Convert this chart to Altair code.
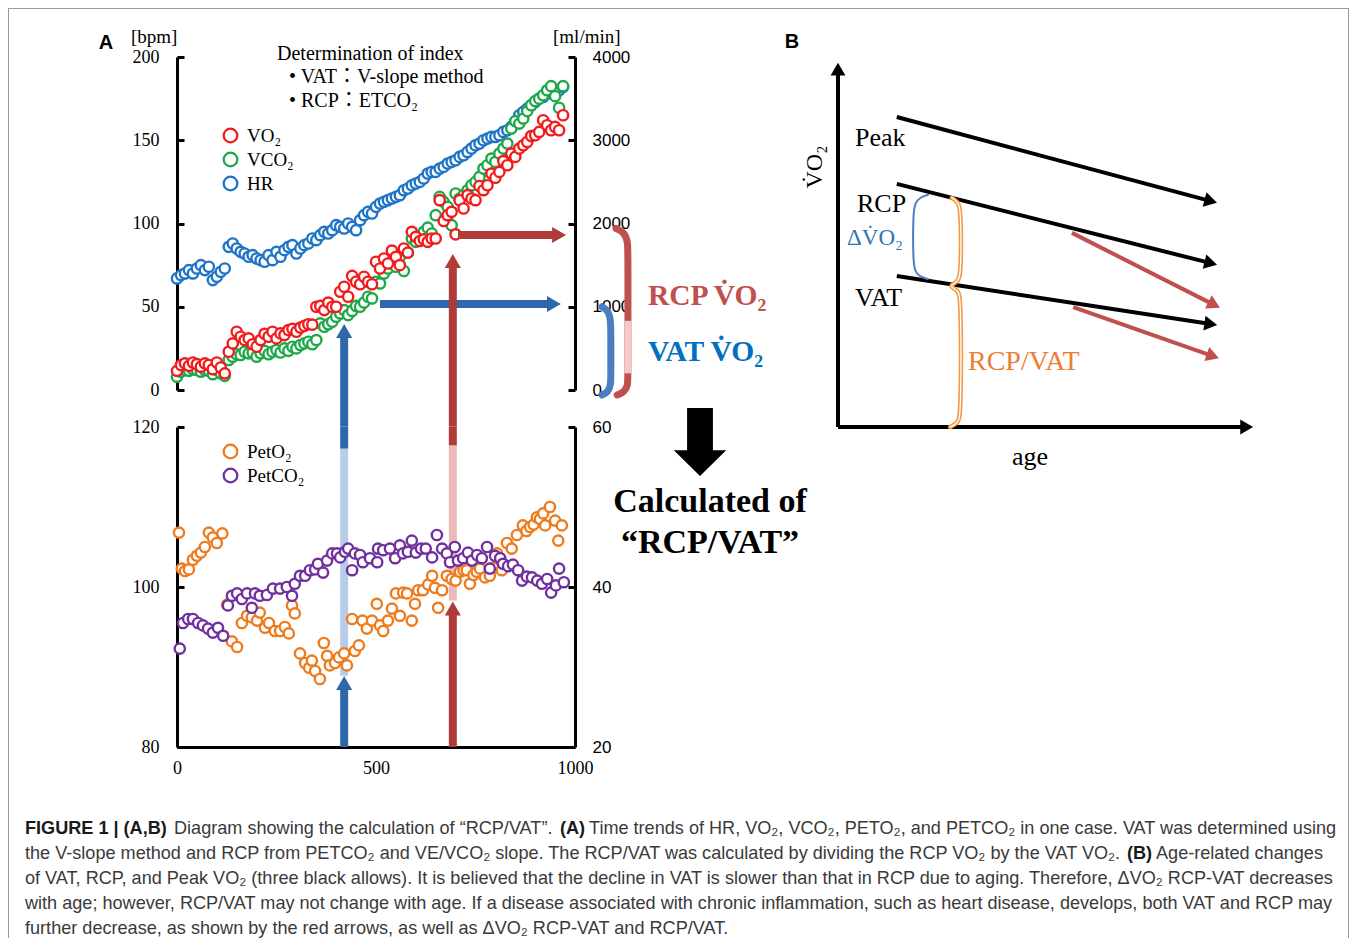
import altair as alt
import pandas as pd

W, H = 1341, 930
SERIF = "Liberation Serif, Times New Roman, serif"
SERIF_CJK = "Liberation Serif, Noto Sans CJK JP, serif"
SANS = "Liberation Sans, Arial, sans-serif"
CAP_FONT = "Liberation Sans, Arial, sans-serif"

# ---------------- data ----------------
TIME = [0, 10, 20, 30, 40, 50, 60, 70, 80, 90,
        100, 110, 120, 130, 140, 150, 160, 170, 180, 190,
        200, 210, 220, 230, 240, 250, 260, 270, 280, 290,
        300, 310, 320, 330, 340, 350, 360, 370, 380, 390,
        400, 410, 420, 430, 440, 450, 460, 470, 480, 490,
        500, 510, 520, 530, 540, 550, 560, 570, 580, 590,
        600, 610, 620, 630, 640, 650, 660, 670, 680, 690,
        700, 710, 720, 730, 740, 750, 760, 770, 780, 790,
        800, 810, 820, 830, 840, 850, 860, 870, 880, 890,
        900, 910, 920, 930, 940, 950, 960, 970]
HR = [67, 69, 70, 72, 70, 73, 75, 72, 74, 66,
      68, 71, 73, 86, 88, 85, 83, 82, 80, 81,
      79, 78, 77, 81, 78, 83, 80, 84, 86, 87,
      82, 85, 87, 88, 91, 90, 93, 95, 94, 96,
      99, 98, 97, 100, 98, 96, 102, 105, 107, 106,
      110, 112, 113, 114, 115, 116, 117, 120, 121, 123,
      124, 125, 127, 130, 131, 131, 133, 134, 136, 137,
      138, 140, 141, 143, 145, 147, 148, 150, 151, 152,
      152, 153, 155, 156, 158, 161, 165, 167, 169, 171,
      173, 175, 176, 178, 179, 180, 180, 182]
VO2 = [230, 300, 320, 290, 330, 310, 280, 320, 300, 250,
       330, 270, 200, 460, 560, 700, 640, 600, 620, 550,
       520, 600, 675, 640, 700, 620, 680, 660, 720, 735,
       700, 750, 770, 790, 785, 1000, 1010, 960, 1050, 1000,
       1000, 1180, 1240, 1120, 1370, 1300, 1270, 1360, 1300, 1270,
       1540, 1460, 1580, 1520, 1675, 1600, 1500, 1700, 1650, 1900,
       1840, 1790, 1810, 1780, 1820, 1820, 2280, 2030, 2100, 2140,
       1870, 2280, 2180, 2340, 2300, 2280, 2450, 2400, 2460, 2600,
       2550, 2620, 2750, 2700, 2840, 2800, 2900, 2940, 2980, 3050,
       3060, 3100, 3240, 3180, 3120, 3160, 3120, 3300]
VCO2 = [160, 220, 240, 230, 250, 240, 220, 240, 230, 190,
        240, 200, 170, 360, 400, 430, 420, 460, 440, 450,
        400, 440, 470, 430, 460, 480, 450, 500, 470, 520,
        500, 540, 560, 580, 550, 600, 800, 760, 790, 820,
        880, 920, 960, 900, 950, 1010, 1000, 1050, 1120, 1100,
        1300, 1280, 1400, 1460, 1520, 1480, 1600, 1430, 1650, 1820,
        1780, 1850, 1900, 1950, 1880, 2100, 2320, 2260, 2200, 1980,
        2360, 2300, 2340, 2400, 2460, 2500, 2560, 2660, 2700, 2780,
        2740, 2840, 2900, 2960, 3140, 3230, 3200, 3260, 3350, 3420,
        3470, 3500, 3540, 3600, 3650, 3530, 3390, 3650]
PETO2_T = [5, 12, 20, 30, 40, 50, 60, 70, 80, 90, 100, 114, 126, 138, 151, 163, 176, 188, 201, 208,
           221, 231, 246, 259, 271, 281, 289, 296, 309, 322, 332, 339, 347, 359, 369, 377, 384, 397, 407, 420,
           427, 440, 447, 457, 466, 477, 490, 502, 510, 518, 530, 540, 550, 560, 568, 578, 590, 598, 606, 618,
           631, 641, 648, 656, 666, 678, 690, 700, 711, 720, 728, 736, 745, 753, 761, 774, 786, 795, 804, 816,
           829, 841, 854, 869, 878, 887, 896, 904, 912, 920, 925, 937, 950, 958, 967]
PETO2 = [106.8, 102.3, 102.0, 102.2, 103.4, 103.9, 104.3, 105.0, 106.8, 106.2, 105.5, 106.7, 97.8, 93.2, 92.5,
         95.5, 96.4, 96.2, 95.8, 96.8, 94.9, 95.5, 94.5, 94.5, 95.0, 94.2, 97.7, 96.7, 91.7, 90.5,
         89.9, 90.8, 89.5, 88.5, 93.0, 91.4, 90.2, 90.5, 91.2, 91.7, 90.2, 96.0, 92.0, 92.7, 95.8,
         94.8, 95.8, 97.9, 95.2, 94.5, 95.8, 97.3, 99.2, 96.4, 99.3, 99.2, 95.8, 97.9, 99.6, 99.6,
         100.3, 101.4, 99.9, 97.4, 99.6, 101.4, 101.0, 100.8, 101.9, 102.1, 102.1, 100.4, 101.5, 101.9, 102.3,
         101.2, 101.4, 102.4, 104.2, 102.1, 105.5, 104.8, 106.5, 107.7, 107.0, 107.5, 107.8, 108.7, 108.5, 109.2,
         107.7, 110.0, 108.3, 105.8, 107.7]
PETCO2_T = [7, 15, 28, 40, 53, 65, 78, 90, 103, 116, 128, 138, 151, 163, 176, 188, 196, 208, 226, 241,
            259, 276, 289, 296, 309, 322, 334, 347, 354, 367, 377, 390, 402, 410, 422, 430, 440, 447, 460, 467,
            485, 503, 505, 518, 535, 548, 560, 568, 580, 590, 600, 613, 625, 641, 653, 666, 678, 686, 698, 706,
            719, 731, 741, 754, 766, 779, 786, 799, 812, 819, 832, 844, 857, 867, 879, 892, 905, 917, 930, 940,
            952, 960, 972]
PETCO2 = [32.3, 35.5, 36.0, 36.0, 35.5, 35.2, 34.8, 34.3, 34.9, 33.9, 37.7, 38.9, 39.2, 38.5, 39.2, 37.4,
          39.2, 38.9, 39.0, 39.8, 39.8, 40.0, 38.9, 40.4, 41.4, 41.4, 42.1, 42.2, 42.9, 41.8, 43.3, 44.2,
          44.2, 43.7, 44.4, 44.8, 42.1, 44.2, 44.0, 43.1, 43.6, 43.1, 44.8, 44.6, 44.8, 43.6, 45.2, 44.2,
          44.4, 45.8, 44.3, 44.8, 44.8, 43.7, 46.5, 44.8, 44.2, 43.1, 45.0, 43.3, 43.6, 44.3, 43.3, 44.0,
          43.6, 45.0, 42.3, 43.9, 43.6, 42.9, 42.6, 42.8, 42.1, 40.8, 41.3, 41.2, 40.8, 40.4, 41.0, 39.3,
          40.2, 42.3, 40.6]

TOP_SERIES = ["VO₂", "VCO₂", "HR"]
TOP_COLORS = ["#f21c1c", "#1fa84a", "#1f74c6"]
BOT_SERIES = ["PetO₂", "PetCO₂"]
BOT_COLORS = ["#ee7b1e", "#7030a0"]

HR_TICKS = [0, 50, 100, 150, 200]
ML_TICKS = [0, 1000, 2000, 3000, 4000]
O2_TICKS = [80, 100, 120]
CO2_TICKS = [20, 40, 60]
TIME_TICKS = [0, 500, 1000]

# VAT at t=420 s, RCP at t=693 s (annotation arrows, in data units)
VAT_T, RCP_T = 420, 693
VAT_VO2, RCP_VO2 = 1033, 1862

# Panel B schematic (arbitrary units 0-100)
B_BLACK_X1 = [0, 0, 14.1, 14.1, 14.1]
B_BLACK_Y1 = [0, 0, 84.0, 65.9, 40.9]
B_BLACK_X2 = [0, 98.0, 89.4, 89.4, 89.4]
B_BLACK_Y2 = [97.0, 0, 61.2, 44.4, 27.9]
B_BLACK_ANG = [270, 0, 15.0, 14.2, 8.7]
B_RED_X1 = [56.1, 56.4]
B_RED_Y1 = [52.6, 32.5]
B_RED_X2 = [90.2, 89.9]
B_RED_Y2 = [33.1, 19.2]
B_RED_ANG = [26.9, 19.1]
BRACE_BLUE_X = [21.6, 19.7, 18.5, 18.0, 18.0, 18.5, 19.7, 21.6]
BRACE_BLUE_Y = [62.9, 62.3, 60.7, 58.0, 44.7, 42.0, 40.7, 40.1]
BRACE_OR_X = [27.3, 28.8, 29.5, 29.5, 28.8, 26.4, 28.8, 29.5, 29.5, 28.8, 26.9]
BRACE_OR_Y = [62.1, 61.0, 58.8, 41.5, 39.3, 38.2, 37.1, 35.0, 3.3, 1.1, 0.0]

# brackets right of panel A (time units / ml/min)
BR_RED_T = [1103, 1125, 1133, 1133, 1133, 1133, 1124, 1106]
BR_RED_V = [1940, 1890, 1771, 1602, 157, 60, -24, -60]
BR_BLUE_T = [1068, 1084, 1090, 1090, 1090, 1090, 1083, 1068]
BR_BLUE_V = [1000, 952, 831, 614, 193, 60, -24, -60]

CAPTION = [
    (0, 17, "FIGURE 1 | (A,B)", True),
    (0, 166, "Diagram showing the calculation of “RCP/VAT”.", False),
    (0, 552, "(A)", True),
    (0, 581, "Time trends of HR, VO₂, VCO₂, PETO₂, and PETCO₂ in one case. VAT was determined using", False),
    (1, 17, "the V-slope method and RCP from PETCO₂ and VE/VCO₂ slope. The RCP/VAT was calculated by dividing the RCP VO₂ by the VAT VO₂.", False),
    (1, 1119, "(B)", True),
    (1, 1148, "Age-related changes", False),
    (2, 17, "of VAT, RCP, and Peak VO₂ (three black allows). It is believed that the decline in VAT is slower than that in RCP due to aging. Therefore, ΔVO₂ RCP-VAT decreases", False),
    (3, 17, "with age; however, RCP/VAT may not change with age. If a disease associated with chronic inflammation, such as heart disease, develops, both VAT and RCP may", False),
    (4, 17, "further decrease, as shown by the red arrows, as well as ΔVO₂ RCP-VAT and RCP/VAT.", False),
]


# ---------------- scales ----------------
def sc(dom, rng):
    return alt.Scale(domain=dom, range=rng, nice=False, zero=False)


X_A = sc([0, 1000], [169, 567])
Y_HR = sc([0, 200], [382, 49])
Y_ML = sc([0, 4000], [382, 49])
Y_O2 = sc([80, 120], [739, 419])
Y_CO2 = sc([20, 60], [739, 419])
X_B = sc([0, 100], [830, 1247])
Y_B = sc([0, 100], [419, 50])

TOP_SCALE = alt.Scale(domain=TOP_SERIES, range=TOP_COLORS)
BOT_SCALE = alt.Scale(domain=BOT_SERIES, range=BOT_COLORS)


def leg(y):
    return alt.Legend(orient="none", legendX=213, legendY=y, symbolType="circle", symbolSize=185,
                      symbolStrokeWidth=2.3, symbolFillColor="white", symbolOpacity=1,
                      labelFont=SERIF, labelFontSize=19, labelColor="black", labelOffset=7,
                      rowPadding=1, padding=0)


LEG_TOP = leg(118)
LEG_BOT = leg(434)


def label_axis(orient, offset, values, font, size, pad):
    return alt.Axis(orient=orient, offset=offset, values=values, format="d", grid=False, ticks=False,
                    tickSize=0, domain=True, domainColor="black", domainWidth=3, labelFont=font,
                    labelFontSize=size, labelColor="black", labelPadding=pad, labelFlush=False,
                    labelOverlap=False)


def tick_axis(orient, offset, values):
    return alt.Axis(orient=orient, offset=offset, values=values, grid=False, labels=False, domain=False,
                    ticks=True, tickSize=7, tickWidth=3, tickColor="black")


def series_df(t, v, name):
    return pd.DataFrame({"t": t, "v": v, "s": name})


hr_df = series_df(TIME, HR, "HR")
vo2_df = series_df(TIME, VO2, "VO₂")
vco2_df = series_df(TIME, VCO2, "VCO₂")
po2_df = series_df(PETO2_T, PETO2, "PetO₂")
pco2_df = series_df(PETCO2_T, PETCO2, "PetCO₂")

PT = dict(shape="circle", filled=False, fill="white", fillOpacity=1, opacity=1, size=105, strokeWidth=2.4)


def dots(df, ys, yaxis, chan, xaxis=None):
    enc = dict(x=alt.X("t:Q", scale=X_A, axis=xaxis, title=None),
               y=alt.Y("v:Q", scale=ys, axis=yaxis, title=None))
    if chan == "color":
        enc["color"] = alt.Color("s:N", scale=TOP_SCALE, legend=LEG_TOP, title=None)
    else:
        enc["stroke"] = alt.Stroke("s:N", scale=BOT_SCALE, legend=LEG_BOT, title=None)
    return alt.Chart(df).mark_point(**PT).encode(**enc)


def carrier(df, ys, yaxis):
    return alt.Chart(df).mark_point(opacity=0).encode(
        x=alt.X("t:Q", scale=X_A, axis=None), y=alt.Y("v:Q", scale=ys, axis=yaxis, title=None))


def shafts(x1, y1, x2, y2, xs, ys, color, width):
    df = pd.DataFrame({"x1": x1, "y1": y1, "x2": x2, "y2": y2})
    return alt.Chart(df).mark_rule(color=color, strokeWidth=width).encode(
        x=alt.X("x1:Q", scale=xs, axis=None), y=alt.Y("y1:Q", scale=ys, axis=None),
        x2="x2:Q", y2="y2:Q")


def heads(x, y, ang, xs, ys, color, size):
    df = pd.DataFrame({"x": x, "y": y, "a": ang})
    return alt.Chart(df).mark_point(shape="triangle-right", filled=True, color=color, opacity=1,
                                    size=size, strokeWidth=0).encode(
        x=alt.X("x:Q", scale=xs, axis=None), y=alt.Y("y:Q", scale=ys, axis=None),
        angle=alt.Angle("a:Q", scale=None))


def curve(x, y, xs, ys, color, width):
    df = pd.DataFrame({"x": x, "y": y, "i": list(range(len(x)))})
    return alt.Chart(df).mark_line(color=color, strokeWidth=width, interpolate="basis",
                                   strokeCap="round").encode(
        x=alt.X("x:Q", scale=xs, axis=None), y=alt.Y("y:Q", scale=ys, axis=None), order="i:Q")


def txt(s, x, y, size, font=SERIF, weight="normal", color="black", align="left", angle=0):
    return alt.Chart(pd.DataFrame({"s": [s]})).mark_text(
        font=font, fontSize=size, fontWeight=weight, color=color, align=align, baseline="middle",
        angle=angle).encode(text="s:N", x=alt.value(x), y=alt.value(y))


def vline(x, y1, y2, color="#9a9a9a"):
    return alt.Chart(pd.DataFrame({"a": [0]})).mark_rule(color=color, strokeWidth=1).encode(
        x=alt.value(x), y=alt.value(y1), y2=alt.value(y2))


def hline(y, x1, x2, color="#9a9a9a"):
    return alt.Chart(pd.DataFrame({"a": [0]})).mark_rule(color=color, strokeWidth=1).encode(
        y=alt.value(y), x=alt.value(x1), x2=alt.value(x2))


BLUE_D, BLUE_L = "#2e67aa", "#b7cce6"
RED_D, RED_L = "#b03c3a", "#eab9b9"

layers = [
    vline(0.5, 0, H), vline(W - 0.5, 0, H), hline(0.5, 0, W),
    # faded bands in lower panel
    shafts([VAT_T], [88.9], [VAT_T], [117.3], X_A, Y_O2, BLUE_L, 8),
    shafts([RCP_T], [98.3], [RCP_T], [117.7], X_A, Y_O2, RED_L, 8),
    # upper panel
    dots(hr_df, Y_HR, label_axis("left", -169, HR_TICKS, SERIF, 18, 18), "color"),
    carrier(hr_df, Y_HR, tick_axis("right", 169 - W, HR_TICKS)),
    dots(vco2_df, Y_ML, None, "color"),
    dots(vo2_df, Y_ML, label_axis("right", 567 - W, ML_TICKS, SANS, 17, 17), "color"),
    carrier(vo2_df, Y_ML, tick_axis("left", -567, ML_TICKS)),
    # lower panel
    dots(po2_df, Y_O2, label_axis("left", -169, O2_TICKS, SERIF, 18, 18), "stroke",
         xaxis=label_axis("bottom", 739 - H, TIME_TICKS, SERIF, 18, 12)),
    carrier(po2_df, Y_O2, tick_axis("right", 169 - W, O2_TICKS)),
    dots(pco2_df, Y_CO2, label_axis("right", 567 - W, CO2_TICKS, SANS, 17, 17), "stroke"),
    carrier(pco2_df, Y_CO2, tick_axis("left", -567, CO2_TICKS)),
    # arrows, upper panel
    shafts([VAT_T, 510], [-440, VAT_VO2], [VAT_T, 940], [660, VAT_VO2], X_A, Y_ML, BLUE_D, 8),
    heads([VAT_T, 947], [709, VAT_VO2], [270, 0], X_A, Y_ML, BLUE_D, 260),
    shafts([RCP_T, 706], [-440, RCP_VO2], [RCP_T, 952], [1500, RCP_VO2], X_A, Y_ML, RED_D, 8),
    heads([RCP_T, 960], [1550, RCP_VO2], [270, 0], X_A, Y_ML, RED_D, 260),
    # arrows, lower panel
    shafts([VAT_T, VAT_T], [117.3, 80], [VAT_T, VAT_T], [120, 87.3], X_A, Y_O2, BLUE_D, 8),
    heads([VAT_T], [88.0], [270], X_A, Y_O2, BLUE_D, 260),
    shafts([RCP_T, RCP_T], [117.7, 80], [RCP_T, RCP_T], [120, 96.5], X_A, Y_O2, RED_D, 8),
    heads([RCP_T], [97.3], [270], X_A, Y_O2, RED_D, 260),
    # brackets
    curve(BR_RED_T, BR_RED_V, X_A, Y_ML, "#c0504d", 7),
    shafts([1133], [831], [1133], [200], X_A, Y_ML, "#f3c9c9", 7),
    curve(BR_BLUE_T, BR_BLUE_V, X_A, Y_ML, "#4a7ebf", 7),
    # texts panel A
    txt("A", 98, 35, 20, font=SANS, weight="bold", align="center"),
    txt("[bpm]", 123, 29, 19),
    txt("[ml/min]", 545, 29, 19),
    txt("Determination of index", 269, 46, 20),
    txt("•  VAT：V-slope method", 281, 69, 20, font=SERIF_CJK),
    txt("•  RCP：ETCO₂", 281, 93, 20, font=SERIF_CJK),
    txt("RCP V\u0307O₂", 640, 288, 29.5, weight="bold", color="#c0504d"),
    txt("VAT V\u0307O₂", 640, 344, 29.5, weight="bold", color="#0070c0"),
    alt.Chart(pd.DataFrame({"a": [0]})).mark_point(
        shape="M-0.38,-1L0.38,-1L0.38,0.24L0.77,0.24L0,1L-0.77,0.24L-0.38,0.24Z",
        size=4624, filled=True, color="black", opacity=1).encode(x=alt.value(692), y=alt.value(434)),
    txt("Calculated of", 702, 494, 34, weight="bold", align="center"),
    txt("“RCP/VAT”", 702, 535, 34, weight="bold", align="center"),
    # panel B
    txt("B", 784, 34, 20, font=SANS, weight="bold", align="center"),
    shafts(B_BLACK_X1, B_BLACK_Y1, B_BLACK_X2, B_BLACK_Y2, X_B, Y_B, "black", 4),
    heads(B_BLACK_X2, B_BLACK_Y2, B_BLACK_ANG, X_B, Y_B, "black", 220),
    shafts(B_RED_X1, B_RED_Y1, B_RED_X2, B_RED_Y2, X_B, Y_B, "#c0504d", 4),
    heads(B_RED_X2, B_RED_Y2, B_RED_ANG, X_B, Y_B, "#c0504d", 220),
    curve(BRACE_BLUE_X, BRACE_BLUE_Y, X_B, Y_B, "#4a7ebf", 2),
    curve(BRACE_OR_X, BRACE_OR_Y, X_B, Y_B, "#f29a4a", 4.5),
    curve(BRACE_OR_X, BRACE_OR_Y, X_B, Y_B, "white", 1.3),
    txt("Peak", 847, 130, 26),
    txt("RCP", 849, 196, 26),
    txt("VAT", 847, 290, 26),
    txt("ΔV\u0307O₂", 839, 230, 23, color="#2e75b6"),
    txt("RCP/VAT", 960, 354, 28, color="#ed7d31"),
    txt("V\u0307O₂", 807, 159, 24, align="center", angle=270),
    txt("age", 1022, 449, 26, align="center"),
]

LINE_Y = [821, 846, 871, 896, 921]
for line, x, s, bold in CAPTION:
    layers.append(txt(s, x, LINE_Y[line], 18.1, font=CAP_FONT, weight="bold" if bold else "normal",
                      color="#1a1a1a" if bold else "#3a3a3a"))

chart = alt.layer(*layers).resolve_scale(x="independent", y="independent").properties(
    width=W, height=H, autosize=alt.AutoSizeParams(type="none"), padding=0, background="white"
).configure_view(stroke=None)

chart.save("out.html", embed_options={"renderer": "svg", "actions": False})
